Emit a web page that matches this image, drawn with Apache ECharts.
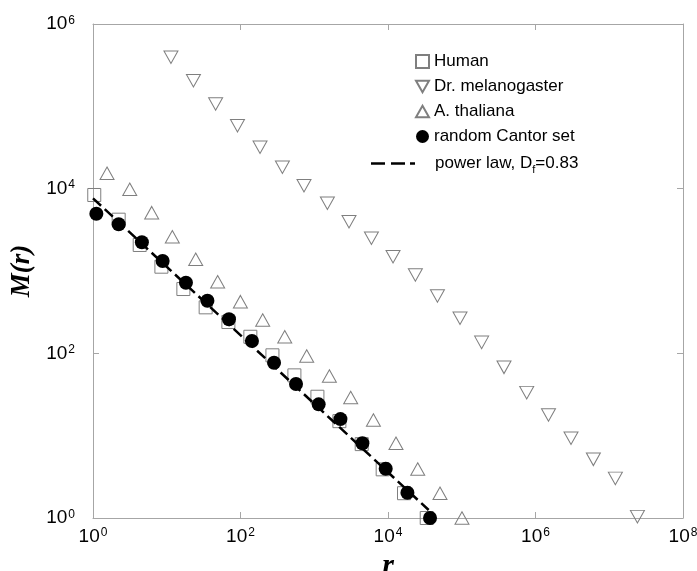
<!DOCTYPE html>
<html><head><meta charset="utf-8">
<script src="https://cdn.jsdelivr.net/npm/echarts@6/dist/echarts.min.js"></script>
<style>html,body{margin:0;padding:0;background:#fff;overflow:hidden;width:100%;height:100%}#c{position:absolute;left:0;top:0;width:697px;height:571px}</style>
</head><body><div id="c"></div>
<script>
// ---- data ----
const humanR = [1.04, 2.23, 4.3, 8.46, 16.8, 33.7, 68.5, 136, 271, 538, 1104, 2193, 4400, 8470, 16480, 33500];
const humanM = [8380, 4200, 2070, 1128, 604, 362, 240, 159, 94.6, 54, 29.7, 15.0, 7.9, 3.9, 2.0, 1.0];

const droR = [11.4, 23, 46, 91, 184, 370, 726, 1507, 2960, 5960, 11700, 23500, 46800, 94700, 186000, 374000, 760000, 1.5e6, 3.03e6, 6.09e6, 1.21e7, 2.41e7];
const droM = [394000, 205000, 106600, 58200, 31800, 18200, 10870, 6640, 3970, 2495, 1493, 895, 497, 267, 136, 67.6, 33.3, 17.8, 9.29, 5.16, 3.03, 1.04];

const thalR = [1.55, 3.15, 6.25, 11.9, 24.7, 49, 99.7, 200, 398, 790, 1604, 3120, 6340, 12830, 25300, 50700, 100700];
const thalM = [15380, 9820, 5110, 2610, 1387, 741, 424, 254, 159, 92.9, 53.1, 29.1, 15.5, 8.08, 3.94, 2.0, 1.0];

const cantorR = [1.11, 2.23, 4.6, 8.8, 18.2, 35.6, 69.8, 143, 285, 566, 1148, 2264, 4497, 9310, 18330, 37150];
const cantorM = [4966, 3690, 2233, 1325, 721, 436, 259, 141, 77, 42.4, 24.0, 15.9, 8.08, 3.97, 2.03, 1];

const powerR = [1, 35600];
const powerM = [7640, 1.25];

const seriesNames = ['Human', 'Dr. melanogaster', 'A. thaliana', 'random Cantor set', 'power law, D_f=0.83'];
const xTicksExp = [0, 2, 4, 6, 8];
const yTicksExp = [0, 2, 4, 6];

// ---- chart ----
const zip = (a, b) => a.map((v, i) => [v, b[i]]);
const GRAY = '#7f7f7f';
const AXIS = '#a6a6a6';
const downTri = 'path://M0,0L10,0L5,8.66Z';
const upTri = 'path://M5,0L10,8.66L0,8.66Z';
const dashIcon = 'path://M0,0h14v2.4h-14zM20,0h14v2.4h-14zM39,0h5v2.4h-5z';

const expLabel = v => {
  const e = Math.round(Math.log10(v));
  return '{b|10}{s|' + e + '}';
};
const labelRich = {
  b: { fontFamily: 'Liberation Sans', fontSize: 19, lineHeight: 19, color: '#000' },
  s: { fontFamily: 'Liberation Sans', fontSize: 12, lineHeight: 12, verticalAlign: 'top', color: '#000', padding: [0, 0, 0, 1] }
};

const xMin = Math.pow(10, xTicksExp[0]), xMax = Math.pow(10, xTicksExp[xTicksExp.length - 1]);
const yMin = Math.pow(10, yTicksExp[0]), yMax = Math.pow(10, yTicksExp[yTicksExp.length - 1]);

const baseAxis = {
  type: 'log', logBase: 10, interval: 2,
  axisLine: { show: true, lineStyle: { color: AXIS, width: 1 } },
  axisTick: { show: true, inside: true, length: 6, lineStyle: { color: AXIS } },
  minorTick: { show: false },
  splitLine: { show: false }
};

const chart = echarts.init(document.getElementById('c'), null, { renderer: 'canvas', width: 697, height: 571 });
chart.setOption({
  backgroundColor: '#fff',
  animation: false,
  grid: { left: 93, right: 14, top: 24, bottom: 53, containLabel: false, outerBoundsMode: 'none' },
  xAxis: [
    Object.assign({}, baseAxis, {
      position: 'bottom', min: xMin, max: xMax,
      axisLabel: { show: true, margin: 9, formatter: expLabel, rich: labelRich, showMinLabel: true, showMaxLabel: true },
      name: 'r', nameLocation: 'middle', nameGap: 22,
      nameTextStyle: { fontFamily: 'Liberation Serif', fontStyle: 'italic', fontWeight: 'bold', fontSize: 30, color: '#000' }
    }),
    Object.assign({}, baseAxis, {
      position: 'top', min: xMin, max: xMax, axisLabel: { show: false }
    })
  ],
  yAxis: [
    Object.assign({}, baseAxis, {
      position: 'left', min: yMin, max: yMax,
      axisLabel: { show: true, margin: 18, formatter: expLabel, rich: labelRich, showMinLabel: true, showMaxLabel: true },
      name: 'M(r)', nameLocation: 'middle', nameGap: 56,
      nameTextStyle: { fontFamily: 'Liberation Serif', fontStyle: 'italic', fontWeight: 'bold', fontSize: 27, color: '#000' }
    }),
    Object.assign({}, baseAxis, {
      position: 'right', min: yMin, max: yMax, axisLabel: { show: false }
    })
  ],
  legend: [
    {
      data: seriesNames.slice(0, 4),
      orient: 'vertical', left: 410, top: 48,
      itemWidth: 13, itemHeight: 13, itemGap: 8,
      textStyle: { fontFamily: 'Liberation Sans', fontSize: 17, lineHeight: 17, color: '#000' },
      selectedMode: false
    },
    {
      data: [{ name: seriesNames[4], icon: dashIcon }],
      orient: 'vertical', left: 366, top: 150,
      itemWidth: 44, itemHeight: 3, itemGap: 8,
      formatter: () => 'power law, {n|D}{sub|f}{n|=0.83}',
      textStyle: {
        fontFamily: 'Liberation Sans', fontSize: 17, lineHeight: 17, color: '#000', padding: [0, 0, 0, 15],
        rich: {
          n: { fontFamily: 'Liberation Sans', fontSize: 17, lineHeight: 17, color: '#000' },
          sub: { fontFamily: 'Liberation Sans', fontSize: 11, lineHeight: 11, color: '#000', verticalAlign: 'top', padding: [9, 0, 0, 0] }
        }
      },
      selectedMode: false
    }
  ],
  series: [
    {
      name: seriesNames[0], type: 'scatter', data: zip(humanR, humanM), clip: false,
      symbol: 'rect', symbolSize: 13,
      itemStyle: { color: 'rgba(255,255,255,0)', borderColor: GRAY, borderWidth: 1, opacity: 1 }
    },
    {
      name: seriesNames[1], type: 'scatter', data: zip(droR, droM), clip: false,
      symbol: downTri, symbolSize: [14, 12.5],
      itemStyle: { color: 'rgba(255,255,255,0)', borderColor: GRAY, borderWidth: 1, opacity: 1 }
    },
    {
      name: seriesNames[2], type: 'scatter', data: zip(thalR, thalM), clip: false,
      symbol: upTri, symbolSize: [14, 12.5],
      itemStyle: { color: 'rgba(255,255,255,0)', borderColor: GRAY, borderWidth: 1, opacity: 1 }
    },
    {
      name: seriesNames[4], type: 'line', data: zip(powerR, powerM), symbol: 'none',
      color: '#000',
      lineStyle: { color: '#000', width: 2.5, type: [11, 5] },
      z: 3
    },
    {
      name: seriesNames[3], type: 'scatter', data: zip(cantorR, cantorM), clip: false,
      symbol: 'circle', symbolSize: 14,
      itemStyle: { color: '#000', opacity: 1 }, z: 4
    }
  ]
});
</script>
</body></html>
